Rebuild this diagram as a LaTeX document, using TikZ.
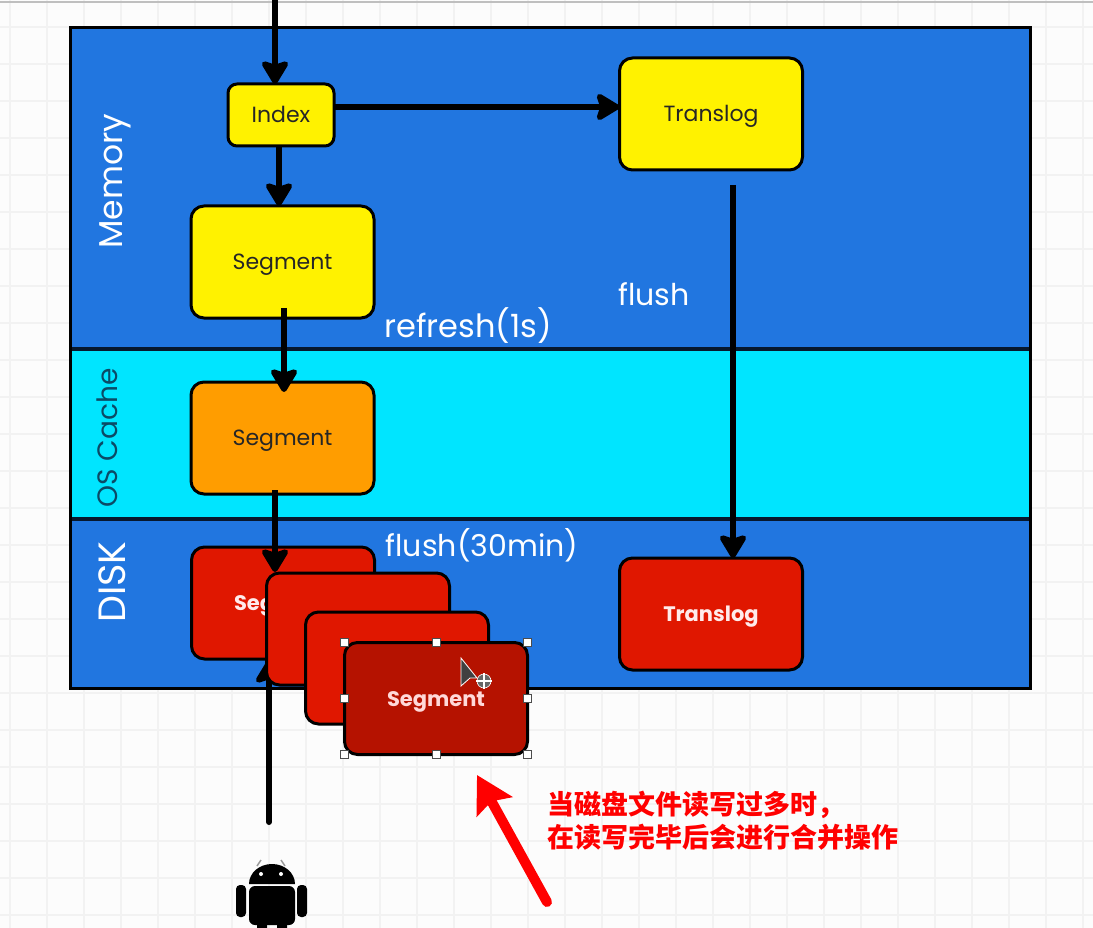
\documentclass[tikz,border=0pt]{standalone}
\usepackage{fontspec}
\setmainfont{Poppins}
\newfontfamily\cjkfont{Noto Sans CJK SC}
\usetikzlibrary{arrows.meta}
\definecolor{bandblue}{HTML}{2176E0}
\definecolor{bandcyan}{HTML}{00E5FF}
\definecolor{boxyellow}{HTML}{FFF200}
\definecolor{boxorange}{HTML}{FF9D00}
\definecolor{boxred}{HTML}{E01700}
\definecolor{boxdark}{HTML}{B51200}
\definecolor{gridgray}{HTML}{F2F2F2}
\definecolor{cachetext}{HTML}{0B4A66}
\tikzset{
  band/.style={draw=black!80!bandblue,line width=1.5pt},
  box/.style={draw=black,line width=3pt,rounded corners=13pt,minimum width=183pt,minimum height=112pt,inner sep=0pt,outer sep=0pt,text height=15pt,text depth=0pt,font=\fontsize{22}{26}\selectfont},
  yellowbox/.style={box,fill=boxyellow,text=black!85},
  redbox/.style={box,fill=boxred,text=white!92!red,font=\fontsize{21}{25}\selectfont\bfseries},
  flow/.style={draw=black,line width=6pt,-{Stealth[round,length=27pt,width=32pt,inset=5pt]}},
  bandlabel/.style={rotate=90,text=white,font=\fontsize{33}{40}\selectfont},
  note/.style={text=white,font=\fontsize{30}{36}\selectfont},
  handle/.style={draw=black!70,fill=white,line width=0.8pt,minimum size=8pt,inner sep=0pt}
}
\begin{document}
\begin{tikzpicture}[x=1pt,y=-1pt]
    \useasboundingbox (0,0) rectangle (1093,928);
    % Background grid
    \fill[white!99!black] (0,0) rectangle (1093,928);
    \foreach \gx in {10,47,...,1090} \draw[gridgray,line width=1.2pt] (\gx,0) -- (\gx,928);
    \foreach \gy in {27,64,...,925} \draw[gridgray,line width=1.2pt] (0,\gy) -- (1093,\gy);
    \draw[black!25,line width=1.5pt] (0,2) -- (1093,2);
    % Bands
    \draw[band,fill=bandblue] (70,28) rectangle (1030,348);
    \draw[band,fill=bandcyan] (70,350) rectangle (1030,518);
    \draw[band,fill=bandblue] (70,520) rectangle (1030,688);
    \draw[black,line width=3pt] (70,28) rectangle (1030,688);
    \node[bandlabel] (memorylabel) at (115,181) {Memory};
    \node[bandlabel,text=cachetext,font=\fontsize{28}{34}\selectfont] (cachelabel) at (107,438) {OS Cache};
    \node[bandlabel,font=\fontsize{38}{44}\selectfont] (disklabel) at (112,582) {DISK};
    \node[note,font=\fontsize{32}{36}\selectfont] (refreshlabel) at (468,326) {refresh(1s)};
    \node[note] (flushlabel) at (654,294) {flush};
    \node[note] (flushdisk) at (482,545) {flush(30min)};
    % Boxes
    \node[yellowbox,minimum width=106pt,minimum height=62pt,rounded corners=9pt] (index) at (281,115) {Index};
    \node[yellowbox] (translog) at (711,114) {Translog};
    \node[yellowbox] (segment) at (282.5,262) {Segment};
    \node[box,fill=boxorange,text=black!85] (cached) at (282.5,438) {Segment};
    \node[redbox] (disktranslog) at (711,614) {Translog};
    \node[redbox] (diskone) at (283,603) {Segment};
    % Arrows
    \coordinate (entry) at (275,0);
    \coordinate (fromcache) at (275,490);
    \coordinate (tocache) at (284,392);
    \coordinate (phonetop) at (269,660);
    \coordinate (phoneend) at (269,822);
    \coordinate (logstart) at (733,185);
    \draw[flow] (entry) -- (entry |- index.north);
    \draw[flow] (279,146) -- (279,206);
    \draw[flow] (index.east |- 0,107) -- (translog.west |- 0,107);
    \draw[flow] (284,308) -- (tocache);
    \draw[flow] (logstart) -- (logstart |- disktranslog.north);
    \draw[flow] (fromcache) -- (275,572);
    \draw[flow,line cap=round] (phoneend) -- (phonetop);
    % Merged segments
    \node[redbox] (disktwo) at (358,629) {};
    \node[redbox] (diskthree) at (397,668) {};
    \node[redbox,fill=boxdark,text=white!85!red] (diskfour) at (436,698.5) {Segment};
    \foreach \anchorname in {north west,north,north east,west,east,south west,south,south east}
        \node[handle] at (diskfour.\anchorname) {};
    % Cursor
    \draw[white,line width=0.8pt,fill=black!75] (461,658) -- (461,686) -- (470,678) -- (477,678) -- cycle;
    \draw[white,fill=black!60,line width=0.6pt] (484,681) circle (7pt);
    \draw[white,line width=1.2pt] (476,681) -- (492,681) (484,673) -- (484,689);
    % Red note
    \coordinate (notetail) at (547,902);
    \coordinate (notehead) at (477,775);
    \draw[red,line width=10pt,line cap=round,-{Stealth[length=36pt,width=40pt,inset=6pt]}] (notetail) -- (notehead);
    \node[anchor=west,align=left,text=red,font=\cjkfont\bfseries\fontsize{27}{33}\selectfont] (mergenote) at (544,821) {当磁盘文件读写过多时，\\在读写完毕后会进行合并操作};
    % Android
    \draw[black!40,line width=1.5pt] (257,866) -- (261,860) (285,866) -- (281,860);
    \fill[black] (249,884) arc (180:360:23 and 20) -- cycle;
    \fill[black,rounded corners=6pt] (249,886) rectangle (295,925);
    \fill[black,rounded corners=4pt] (236,885) rectangle (246,917);
    \fill[black,rounded corners=4pt] (297,885) rectangle (307,917);
    \fill[black] (257,920) rectangle (267,928) (277,920) rectangle (287,928);
    \fill[white] (261,874) circle (2pt) (281,874) circle (2pt);
\end{tikzpicture}
\end{document}
